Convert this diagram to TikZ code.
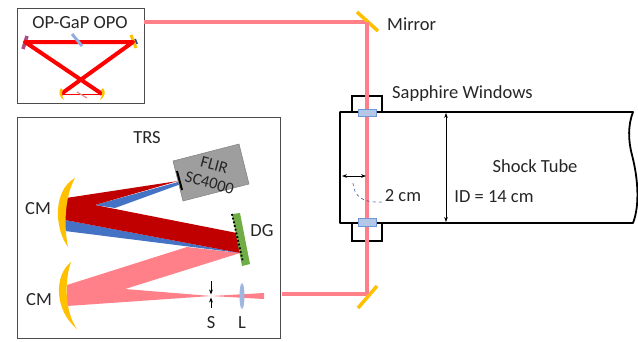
\documentclass[tikz,border=0pt]{standalone}
\usepackage{fontspec}
\setmainfont{Carlito}
\usetikzlibrary{arrows.meta, shapes.geometric}

\definecolor{beampink}{HTML}{FF8088}
\definecolor{beamred}{HTML}{C00000}
\definecolor{beamblue}{HTML}{4472C4}
\definecolor{mirrorgold}{HTML}{FFC000}
\definecolor{windowblue}{HTML}{B4C7E7}
\definecolor{gratinggreen}{HTML}{70AD47}
\tikzset{
  label/.style={font=\fontsize{18.5}{20}\selectfont, text=black!85, inner sep=0pt},
  panel/.style={draw=black!70, line width=1pt},
  tube/.style={draw=black, line width=1.8pt},
  beam/.style={draw=beampink, line width=3.5pt},
  dim/.style={draw=black, line width=0.8pt, {Stealth[length=5pt]}-{Stealth[length=5pt]}},
  flatmirror/.style={draw=mirrorgold, line width=3.5pt},
  cavity/.style={draw=red, line width=4pt}
}

\begin{document}
\begin{tikzpicture}[x=1pt, y=-1pt]
  \useasboundingbox (0, 0) rectangle (638, 341);

  % Panels
  \draw[panel] (17, 8) rectangle (144, 103);
  \draw[panel] (17, 117) rectangle (280, 338);
  \node[label] (opolabel) at (80, 23) {OP-GaP OPO};
  \node[label] (trslabel) at (147, 138) {TRS};

  % Beam path
  \coordinate (opoout) at (144, 22);
  \coordinate (mirrortop) at (367, 22);
  \coordinate (mirrorbot) at (367, 294);
  \coordinate (trsin) at (282, 294);
  \draw[beam] (opoout) -- (mirrortop) -- (mirrorbot) -- (trsin);
  \draw[flatmirror] (357, 12) -- (378, 31);
  \draw[flatmirror] (377, 286) -- (358, 308);
  \node[label, anchor=west] (mirrorlabel) at (387, 24) {Mirror};

  % OPO cavity
  \coordinate (cavleft) at (25, 42);
  \coordinate (cavright) at (133, 42);
  \coordinate (cavbotl) at (61, 94);
  \coordinate (cavbotr) at (102, 94);
  \draw[draw=beamblue!70!black, line width=2pt] (135, 39) -- (137, 44);
  \draw[flatmirror, line width=3pt] (131, 35) -- (136, 48);
  \draw[draw=black!30!blue!45!red!70!white, line width=3.5pt] (27, 36) -- (23, 49);
  \draw[cavity, line join=round] (cavbotr) -- (cavleft) -- (cavright) -- (cavbotl);
  \draw[draw=red, line width=0.8pt] (cavbotl) -- (cavbotr);
  \draw[draw=windowblue!70!beamblue, line width=3pt] (72, 34) -- (82, 46);
  \draw[draw=beamred!45, line width=1.2pt] (77, 92) -- (87, 98);
  \fill[mirrorgold] (61, 88) .. controls (58, 92) and (59, 97) .. (64, 100)
     .. controls (62, 96) and (61, 93) .. (63, 90) -- cycle;
  \fill[mirrorgold] (103, 88) .. controls (106, 92) and (105, 97) .. (100, 100)
     .. controls (102, 96) and (103, 93) .. (101, 90) -- cycle;

  % Shock tube
  \draw[tube, line join=round] (633, 112) .. controls (628, 125) and (628, 140) .. (632, 155)
     .. controls (638, 178) and (640, 205) .. (633, 223) -- (340, 223) -- (340, 112) -- cycle;
  \draw[tube] (352, 112) -- (352, 96) -- (382, 96) -- (382, 112);
  \draw[tube] (352, 223) -- (352, 241) -- (382, 241) -- (382, 223);
  \draw[beam] (mirrortop) -- (mirrorbot);
  \filldraw[fill=windowblue, draw=beamblue!75, line width=0.7pt] (358, 109) rectangle (376, 116);
  \filldraw[fill=windowblue, draw=beamblue!75, line width=0.7pt] (358, 218) rectangle (376, 226);
  \node[label, anchor=west] (windowlabel) at (392, 94) {Sapphire Windows};
  \node[label] (tubelabel) at (535, 166) {Shock Tube};
  \node[label] (idlabel) at (494, 197) {ID = 14 cm};
  \node[label] (gaplabel) at (403, 196) {2 cm};

  % Tube dimensions
  \coordinate (idtop) at (446, 113);
  \coordinate (idbot) at (446, 222);
  \coordinate (gapleft) at (342, 176);
  \coordinate (gapright) at (366, 176);
  \draw[dim] (idtop) -- (idbot);
  \draw[dim] (gapleft) -- (gapright);
  \draw[draw=beamblue!80!black, line width=0.6pt, dashed] (353, 183) .. controls (354, 196) and (362, 203) .. (382, 202);

  % TRS beams
  \fill[beampink] (67, 285) -- (187, 247) -- (240, 253) -- (125, 289) -- (211, 296)
     -- (264, 293) -- (264, 299) -- (211, 296) -- (67, 306) -- cycle;
  \fill[beamblue] (65, 220) -- (240, 253) -- (65, 231) -- cycle;
  \fill[beamblue] (178, 182) -- (181, 184) -- (115, 208) -- (95, 205) -- cycle;
  \fill[beamred] (66, 198) -- (178, 181) -- (95, 205) -- (237, 233) -- (240, 253) -- (65, 220) -- cycle;

  % Collimating mirrors
  \fill[mirrorgold] (75, 178) .. controls (53, 190) and (54, 228) .. (68, 247)
     .. controls (64, 228) and (64, 198) .. (75, 178) -- cycle;
  \fill[mirrorgold] (71, 262) .. controls (54, 275) and (54, 310) .. (77, 329)
     .. controls (65, 312) and (64, 282) .. (71, 262) -- cycle;
  \node[label] (cmtop) at (38, 209) {CM};
  \node[label] (cmbot) at (39, 300) {CM};

  % Camera
  \filldraw[fill=black!38, draw=black!50, line width=0.5pt]
     (173, 161) -- (239, 144) -- (249, 184) -- (183, 201) -- cycle;
  \draw[draw=black, line width=2pt] (177, 171) -- (182, 190);
  \node[label, rotate=-15, align=center, font=\fontsize{16.5}{18.5}\selectfont] (flir) at (212, 174) {FLIR\\SC4000};

  % Grating
  \fill[fill=gratinggreen] (232, 214) -- (240, 213) -- (250, 264) -- (242, 266) -- cycle;
  \draw[draw=black, line width=1.8pt, dotted] (232, 214) -- (243, 262);
  \node[label] (dglabel) at (262, 231) {DG};

  % Slit and lens
  \coordinate (slittop) at (211, 281);
  \coordinate (slitbot) at (211, 308);
  \draw[draw=black, line width=1pt, -{Stealth[length=5pt]}] (slittop) -- (211, 294.5);
  \draw[draw=black, line width=1pt, -{Stealth[length=5pt]}] (slitbot) -- (211, 297.5);
  \node[ellipse, fill=windowblue!80!beamblue, minimum width=5pt, minimum height=26pt, inner sep=0pt] (lens) at (242, 296) {};
  \node[label] (slitlabel) at (211, 323) {S};
  \node[label] (lenslabel) at (242, 323) {L};
\end{tikzpicture}
\end{document}
